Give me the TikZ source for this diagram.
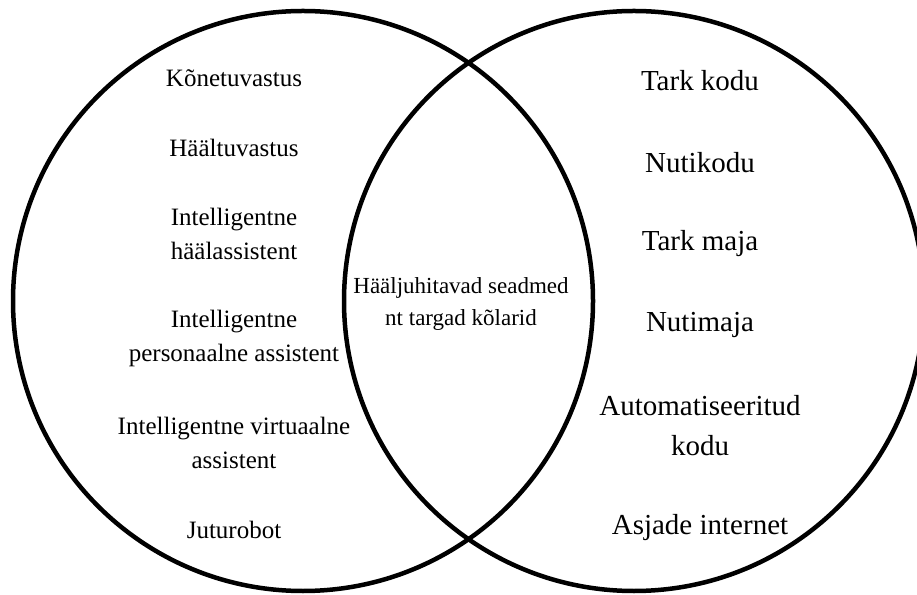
\documentclass[tikz,border=0pt]{standalone}
\usepackage{fontspec}
\setmainfont{Liberation Serif}

\tikzset{
    lefttext/.style={align=center, font=\fontsize{25}{34}\selectfont},
    midtext/.style={align=center, font=\fontsize{23}{32}\selectfont},
    righttext/.style={align=center, font=\fontsize{29}{40}\selectfont}
}

\begin{document}
\begin{tikzpicture}[x=1pt,y=1pt]
    \useasboundingbox (0,0) rectangle (917,594);

    % the two circles
    \draw[line width=4.5pt] (303,293) circle(290pt);
    \draw[line width=4.5pt] (634,293) circle(290pt);

    % left circle
    \node[lefttext] (kone) at (234,516) {Kõnetuvastus};
    \node[lefttext] (haal) at (234,446) {Häältuvastus};
    \node[lefttext] (ihaal) at (234,360) {Intelligentne\\häälassistent};
    \node[lefttext] (ipers) at (234,256) {Intelligentne\\personaalne assistent};
    \node[lefttext] (ivirt) at (234,151) {Intelligentne virtuaalne\\assistent};
    \node[lefttext] (jutu) at (234,64) {Juturobot};

    % the overlap
    \node[midtext] (seadmed) at (461,290) {Hääljuhitavad seadmed\\nt targad kõlarid};

    % right circle
    \node[righttext] (tkodu) at (700,513) {Tark kodu};
    \node[righttext] (nkodu) at (700,431) {Nutikodu};
    \node[righttext] (tmaja) at (700,350) {Tark maja};
    \node[righttext] (nmaja) at (700,269) {Nutimaja};
    \node[righttext] (auto) at (700,168) {Automatiseeritud\\kodu};
    \node[righttext] (iot) at (700,66) {Asjade internet};
\end{tikzpicture}
\end{document}
